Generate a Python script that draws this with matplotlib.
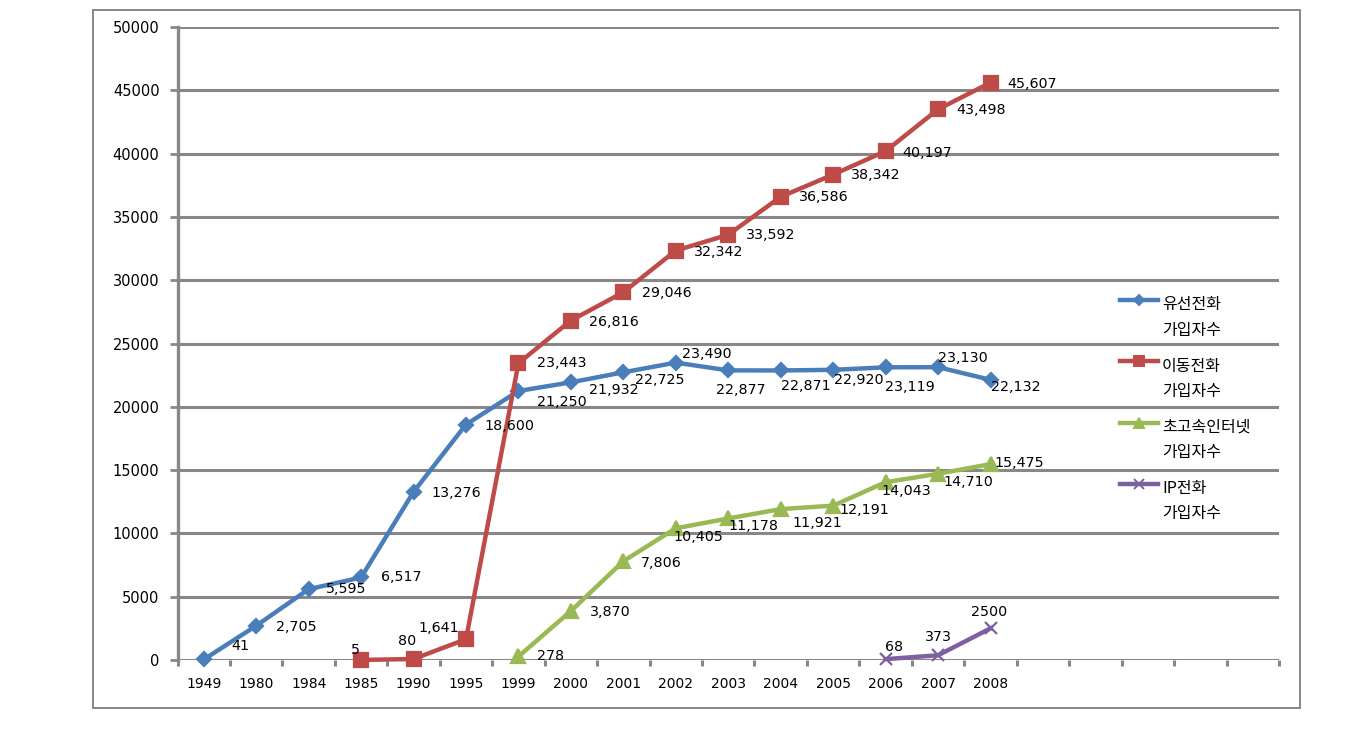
import numpy as np
import matplotlib
matplotlib.use("Agg")
import matplotlib.pyplot as plt
from matplotlib.lines import Line2D
from matplotlib.patches import Rectangle
from matplotlib.ticker import FixedLocator

# --- data -------------------------------------------------------------
years = ["1949", "1980", "1984", "1985", "1990", "1995", "1999", "2000",
         "2001", "2002", "2003", "2004", "2005", "2006", "2007", "2008"]

nan = np.nan
wired = [41, 2705, 5595, 6517, 13276, 18600, 21250, 21932,
         22725, 23490, 22877, 22871, 22920, 23119, 23130, 22132]
mobile = [nan, nan, nan, 5, 80, 1641, 23443, 26816,
          29046, 32342, 33592, 36586, 38342, 40197, 43498, 45607]
internet = [nan, nan, nan, nan, nan, nan, 278, 3870,
            7806, 10405, 11178, 11921, 12191, 14043, 14710, 15475]
voip = [nan, nan, nan, nan, nan, nan, nan, nan,
        nan, nan, nan, nan, nan, 68, 373, 2500]

series_names = ["유선전화\n가입자수", "이동전화\n가입자수",
                "초고속인터넷\n가입자수", "IP전화\n가입자수"]
yticks = list(range(0, 50001, 5000))

# --- style --------------------------------------------------------------
W, H = 1353, 731
colors = ["#4A7EBB", "#BE4B48", "#98B954", "#7D60A0"]
markers = ["D", "s", "^", "x"]
msizes = [7, 9.5, 9.5, 9]
gray = "#878787"
n_slots = 21  # category slots on the axis (the last five are empty)

# label offsets in pixels (dx, dy) from each point
off_wired = [(37, 13), (40, -1), (38, 0), (40, 0), (43, -1), (43, -1),
             (43, -11), (43, -8), (36, -8), (31, 9), (13, -20), (25, -16),
             (26, -10), (24, -20), (25, 9), (25, -7)]
off_mobile = [None, None, None, (-6, 10), (-6, 18), (-27, 11), (43, 0),
              (43, -1), (43, -1), (43, -1), (42, 0), (43, 0), (43, 0),
              (42, -2), (43, -1), (42, -1)]
off_internet = [None] * 6 + [(32, 0), (39, -1), (38, -2), (23, -9), (25, -8),
                             (37, -14), (31, -4), (21, -9), (30, -8), (29, 1)]
off_voip = [None] * 13 + [(8, 12), (0, 18), (-1, 16)]

fig = plt.figure(figsize=(W / 100, H / 100), dpi=100)
ax = fig.add_axes([177.5 / W, 71 / H, 1101.5 / W, 633 / H])

all_series = [wired, mobile, internet, voip]
all_offsets = [off_wired, off_mobile, off_internet, off_voip]

for k, (vals, offs) in enumerate(zip(all_series, all_offsets)):
    ax.plot(years, vals, color=colors[k], lw=3.2, marker=markers[k],
            ms=msizes[k], mec=colors[k], mfc=colors[k], mew=1.6,
            zorder=3, clip_on=False)
    for yr, v, o in zip(years, vals, offs):
        if o is None or np.isnan(v):
            continue
        txt = str(int(v)) if k == 3 else f"{int(v):,}"
        ax.annotate(txt, (yr, v), xytext=o, textcoords="offset pixels",
                    ha="center", va="center", fontsize=10.3, color="black",
                    zorder=4)

ax.set_xlim(-0.5, n_slots - 0.5)
ax.set_ylim(0, 50000)
ax.set_yticks(yticks)
ax.set_yticklabels([str(t) for t in yticks])

ax.xaxis.set_minor_locator(FixedLocator(np.arange(-0.5, n_slots, 1)))
ax.tick_params(axis="x", which="major", length=0, pad=12, labelsize=10)
ax.tick_params(axis="x", which="minor", length=4, width=2.2, color=gray)
ax.tick_params(axis="y", length=6, width=2, color=gray, pad=7,
               labelsize=10.5)

ax.set_axisbelow(True)
ax.yaxis.grid(True, color=gray, lw=2.2)
for s in ["top", "right", "bottom"]:
    ax.spines[s].set_visible(False)
ax.spines["left"].set_color(gray)
ax.spines["left"].set_linewidth(2.4)

# legend drawn by hand, one entry every ~61 px
kr = ["Noto Sans CJK KR", "DejaVu Sans"]
for k, name in enumerate(series_names):
    yh = 300 + 61.3 * k
    fig.add_artist(Line2D([1120 / W, 1158 / W], [1 - yh / H] * 2,
                          transform=fig.transFigure, color=colors[k], lw=3.2))
    fig.add_artist(Line2D([1139 / W], [1 - yh / H], transform=fig.transFigure,
                          color=colors[k], marker=markers[k],
                          ms=msizes[k] * 0.75, mew=1.4, lw=0))
    for j, line in enumerate(name.split("\n")):
        fig.text(1162 / W, 1 - (yh + 5 + 25 * j) / H, line, family=kr,
                 fontsize=11.5, ha="left", va="center")

# outer chart border
fig.add_artist(Rectangle((93 / W, 1 - 708 / H), (1300 - 93) / W, 698 / H,
                         transform=fig.transFigure, fill=False, ec=gray,
                         lw=1.4))

fig.savefig("out.png", dpi=100)
